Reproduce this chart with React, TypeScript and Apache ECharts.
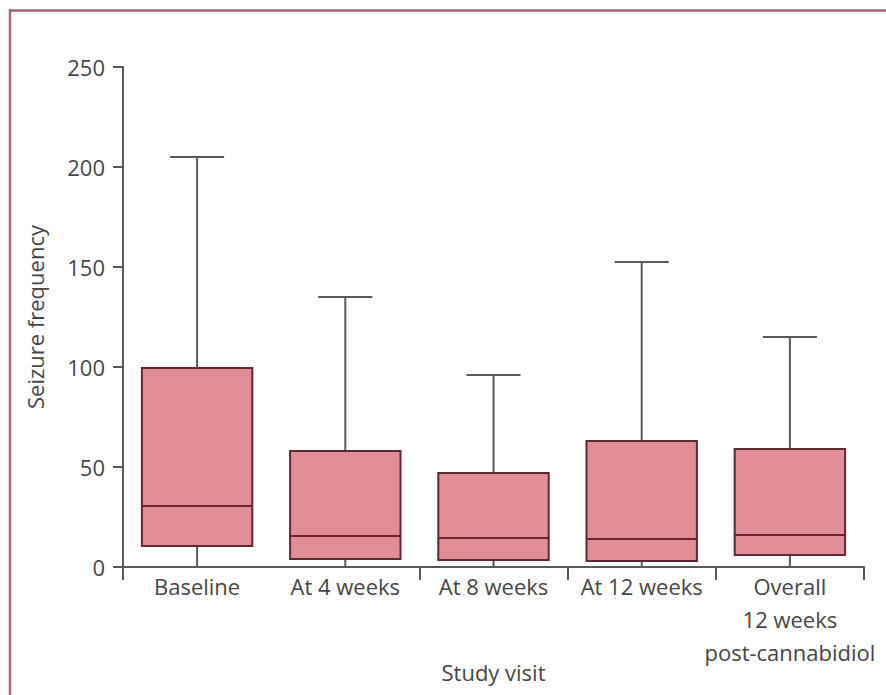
import React, { useEffect, useRef } from "react";
import * as echarts from "echarts";

// Study visits along the x axis
const visits = [
  "Baseline",
  "At 4 weeks",
  "At 8 weeks",
  "At 12 weeks",
  "Overall\n12 weeks\npost-cannabidiol",
];

// Five-number summaries of seizure frequency per visit
const lowWhisker = [0, 0, 0, 0, 0];
const lowerQuartile = [10.5, 4, 3.5, 3, 6];
const medians = [30.5, 15.5, 14.5, 14, 16];
const upperQuartile = [99.5, 58, 47, 63, 59];
const highWhisker = [205, 135, 96, 152.5, 115];

const yTicks = { min: 0, max: 250, interval: 50 };

const TEXT = "#474747";
const AXIS = "#5a5a5a";
const BOX_FILL = "#e08d95";
const BOX_EDGE = "#5e2a31";
const MEDIAN = "#6e2230";
const FRAME = "#a3667d";
const FONT = "'Open Sans', sans-serif";
const FONT_SIZE = 22;

export default function App() {
  const ref = useRef<HTMLDivElement>(null);

  useEffect(() => {
    if (!ref.current) return;
    const chart = echarts.init(ref.current, null, { renderer: "svg" });

    const rows = visits.map((_, i) => [
      i,
      lowWhisker[i],
      lowerQuartile[i],
      medians[i],
      upperQuartile[i],
      highWhisker[i],
    ]);

    // Box, whiskers, caps and median for one visit
    const renderItem = (params: any, api: any) => {
      const idx = api.value(0);
      const band = api.size([1, 0])[0];
      const boxW = band * 0.745;
      const capW = band * 0.365;
      const pMin = api.coord([idx, api.value(1)]);
      const pQ1 = api.coord([idx, api.value(2)]);
      const pMed = api.coord([idx, api.value(3)]);
      const pQ3 = api.coord([idx, api.value(4)]);
      const pMax = api.coord([idx, api.value(5)]);
      const cx = pMed[0];
      const whisker = { stroke: AXIS, lineWidth: 2 };
      return {
        type: "group",
        children: [
          { type: "line", shape: { x1: cx, y1: pMax[1], x2: cx, y2: pQ3[1] }, style: whisker },
          { type: "line", shape: { x1: cx, y1: pQ1[1], x2: cx, y2: pMin[1] }, style: whisker },
          { type: "line", shape: { x1: cx - capW / 2, y1: pMax[1], x2: cx + capW / 2, y2: pMax[1] }, style: whisker },
          { type: "line", shape: { x1: cx - capW / 2, y1: pMin[1], x2: cx + capW / 2, y2: pMin[1] }, style: whisker },
          {
            type: "rect",
            shape: { x: cx - boxW / 2, y: pQ3[1], width: boxW, height: pQ1[1] - pQ3[1] },
            style: { fill: BOX_FILL, stroke: BOX_EDGE, lineWidth: 2 },
          },
          {
            type: "line",
            shape: { x1: cx - boxW / 2, y1: pMed[1], x2: cx + boxW / 2, y2: pMed[1] },
            style: { stroke: MEDIAN, lineWidth: 2.2 },
          },
        ],
      };
    };

    chart.setOption({
      animation: false,
      backgroundColor: "#ffffff",
      textStyle: { fontFamily: FONT },
      grid: {
        left: 123,
        right: 22,
        top: 67,
        bottom: 128,
        containLabel: false,
        outerBoundsMode: "none",
      },
      xAxis: {
        type: "category",
        data: visits,
        boundaryGap: true,
        name: "Study visit",
        nameLocation: "middle",
        nameGap: 94,
        nameMoveOverlap: false,
        nameTextStyle: { color: TEXT, fontSize: FONT_SIZE, fontFamily: FONT },
        axisLine: { show: true, lineStyle: { color: AXIS, width: 2 } },
        axisTick: {
          show: true,
          length: 13,
          interval: (i: number) => i !== 1,
          lineStyle: { color: AXIS, width: 2 },
        },
        axisLabel: {
          color: TEXT,
          fontSize: FONT_SIZE,
          fontFamily: FONT,
          margin: 2,
          lineHeight: 33,
          interval: 0,
        },
        splitLine: { show: false },
      },
      yAxis: {
        type: "value",
        min: yTicks.min,
        max: yTicks.max,
        interval: yTicks.interval,
        name: "Seizure frequency",
        nameLocation: "middle",
        nameRotate: 90,
        nameGap: 77,
        nameMoveOverlap: false,
        nameTextStyle: { color: TEXT, fontSize: FONT_SIZE, fontFamily: FONT },
        axisLine: { show: true, lineStyle: { color: AXIS, width: 2 } },
        axisTick: { show: true, length: 10, lineStyle: { color: AXIS, width: 2 } },
        axisLabel: { color: TEXT, fontSize: FONT_SIZE, fontFamily: FONT, margin: 18 },
        splitLine: { show: false },
      },
      graphic: [
        {
          type: "line",
          shape: { x1: 9, y1: 10.5, x2: 886, y2: 10.5 },
          style: { stroke: FRAME, lineWidth: 2.5 },
        },
        {
          type: "line",
          shape: { x1: 10, y1: 9.5, x2: 10, y2: 695 },
          style: { stroke: FRAME, lineWidth: 2.5 },
        },
      ],
      series: [
        {
          type: "custom",
          renderItem,
          data: rows,
          encode: { x: 0, y: [1, 2, 3, 4, 5] },
          z: 1,
        },
      ],
    });

    return () => chart.dispose();
  }, []);

  return (
    <div
      ref={ref}
      style={{ position: "absolute", left: 0, top: 0, width: 886, height: 695 }}
    />
  );
}
